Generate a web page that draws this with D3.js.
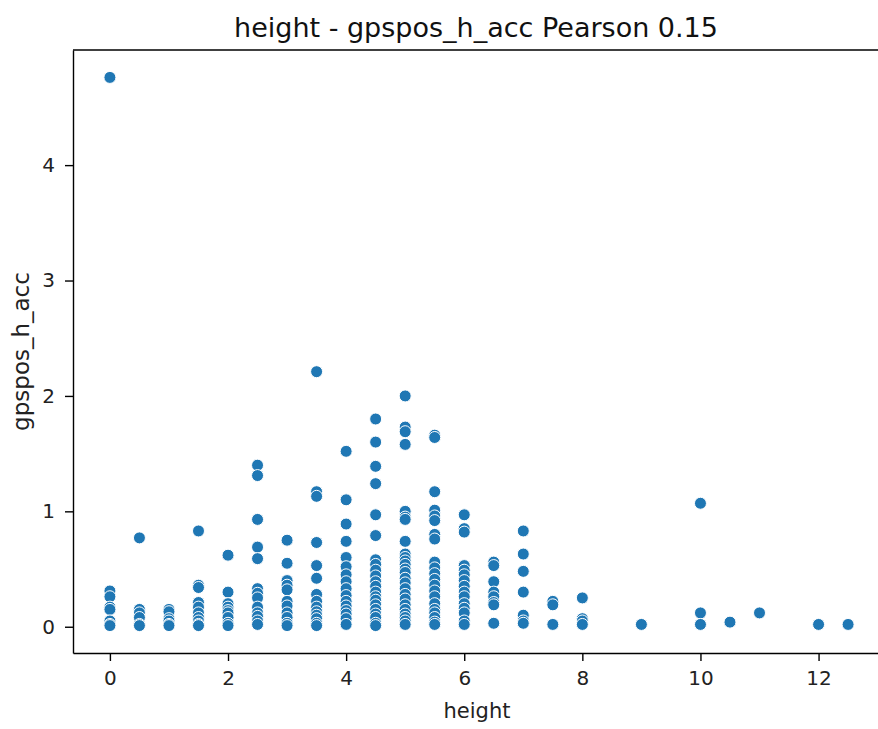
<!DOCTYPE html>
<html>
<head>
<meta charset="utf-8">
<script src="https://cdn.jsdelivr.net/npm/d3@7"></script>
<style>
  body { margin: 0; background: #fff; }
  svg { display: block; font-family: "DejaVu Sans", sans-serif; }
</style>
</head>
<body>
<svg id="chart" width="878" height="729"></svg>
<script>
// gpspos_h_acc values observed at each height step
const heights = [0, 0.5, 1, 1.5, 2, 2.5, 3, 3.5, 4, 4.5, 5, 5.5, 6, 6.5, 7, 7.5, 8, 9, 10, 10.5, 11, 12, 12.5];
const accByHeight = [
  [4.76, 0.31, 0.26, 0.17, 0.15, 0.05, 0.02, 0.01],
  [0.77, 0.15, 0.12, 0.08, 0.02, 0.01],
  [0.15, 0.13, 0.07, 0.05, 0.02, 0.01],
  [0.83, 0.36, 0.34, 0.21, 0.17, 0.12, 0.08, 0.05, 0.02, 0.01],
  [0.62, 0.30, 0.20, 0.17, 0.14, 0.12, 0.08, 0.03, 0.01],
  [1.40, 1.31, 0.93, 0.69, 0.59, 0.33, 0.29, 0.25, 0.17, 0.12, 0.09, 0.05, 0.02],
  [0.75, 0.55, 0.40, 0.36, 0.32, 0.22, 0.18, 0.12, 0.08, 0.03, 0.01],
  [2.21, 1.17, 1.13, 0.73, 0.53, 0.42, 0.28, 0.22, 0.17, 0.13, 0.10, 0.07, 0.03, 0.01],
  [1.52, 1.10, 0.89, 0.74, 0.60, 0.52, 0.45, 0.39, 0.33, 0.27, 0.22, 0.18, 0.14, 0.11, 0.07, 0.02],
  [1.80, 1.60, 1.39, 1.24, 0.97, 0.79, 0.58, 0.54, 0.49, 0.44, 0.39, 0.35, 0.30, 0.26, 0.23, 0.19, 0.15, 0.11, 0.08, 0.03, 0.01],
  [2.00, 1.73, 1.69, 1.58, 1.00, 0.95, 0.93, 0.74, 0.63, 0.60, 0.57, 0.54, 0.50, 0.47, 0.42, 0.38, 0.33, 0.28, 0.24, 0.19, 0.15, 0.11, 0.08, 0.05, 0.02],
  [1.66, 1.64, 1.17, 1.01, 0.96, 0.92, 0.80, 0.76, 0.56, 0.51, 0.46, 0.41, 0.36, 0.31, 0.26, 0.20, 0.15, 0.12, 0.08, 0.04, 0.02],
  [0.97, 0.85, 0.82, 0.53, 0.49, 0.45, 0.40, 0.35, 0.30, 0.26, 0.20, 0.16, 0.12, 0.05, 0.02],
  [0.56, 0.53, 0.39, 0.30, 0.26, 0.21, 0.19, 0.03],
  [0.83, 0.63, 0.48, 0.30, 0.10, 0.05, 0.03],
  [0.22, 0.19, 0.02],
  [0.25, 0.07, 0.05, 0.02],
  [0.02],
  [1.07, 0.12, 0.02],
  [0.04],
  [0.12],
  [0.02],
  [0.02]
];
const xTicks = [0, 2, 4, 6, 8, 10, 12];
const yTicks = [0, 1, 2, 3, 4];
const title = "height - gpspos_h_acc Pearson 0.15";

const points = heights.flatMap((h, i) => accByHeight[i].map(v => ({ x: h, y: v })));

const svg = d3.select("#chart");
const margin = { left: 73, top: 50, right: -7, bottom: 76 };
const width = +svg.attr("width");
const height = +svg.attr("height");

// matplotlib-style 5% padding around the data range
function padded([lo, hi]) {
  const pad = (hi - lo) * 0.05;
  return [lo - pad, hi + pad];
}

const x = d3.scaleLinear()
  .domain(padded(d3.extent(points, d => d.x)))
  .range([margin.left, width - margin.right]);
const y = d3.scaleLinear()
  .domain(padded(d3.extent(points, d => d.y)))
  .range([height - margin.bottom, margin.top]);

function styleAxis(g) {
  g.attr("font-family", "DejaVu Sans, sans-serif").attr("font-size", 20);
  g.selectAll("path, line").attr("stroke", "#000").attr("stroke-width", 1.4);
  g.selectAll("text").attr("fill", "#222");
}

svg.append("g")
  .attr("transform", `translate(0,${height - margin.bottom})`)
  .call(d3.axisBottom(x).tickValues(xTicks).tickFormat(d3.format("d")).tickSize(8).tickPadding(10).tickSizeOuter(0))
  .call(styleAxis);

svg.append("g")
  .attr("transform", `translate(${margin.left},0)`)
  .call(d3.axisLeft(y).tickValues(yTicks).tickFormat(d3.format("d")).tickSize(8).tickPadding(10).tickSizeOuter(0))
  .call(styleAxis);

// top and right spines
svg.append("line")
  .attr("x1", margin.left).attr("x2", width - margin.right)
  .attr("y1", margin.top).attr("y2", margin.top)
  .attr("stroke", "#000").attr("stroke-width", 1.4);
svg.append("line")
  .attr("x1", width - margin.right).attr("x2", width - margin.right)
  .attr("y1", margin.top).attr("y2", height - margin.bottom)
  .attr("stroke", "#000").attr("stroke-width", 1.4);

svg.append("g")
  .selectAll("circle")
  .data(points)
  .join("circle")
  .attr("cx", d => x(d.x))
  .attr("cy", d => y(d.y))
  .attr("r", 6)
  .attr("fill", "#1f77b4")
  .attr("stroke", "#fff")
  .attr("stroke-width", 1);

svg.append("text")
  .attr("x", 476).attr("y", 37)
  .attr("text-anchor", "middle")
  .attr("font-size", 27)
  .attr("fill", "#111")
  .text(title);

svg.append("text")
  .attr("x", 477).attr("y", 718)
  .attr("text-anchor", "middle")
  .attr("font-size", 21)
  .attr("fill", "#222")
  .text("height");

svg.append("text")
  .attr("transform", `translate(29,${(margin.top + height - margin.bottom) / 2}) rotate(-90)`)
  .attr("text-anchor", "middle")
  .attr("font-size", 23)
  .attr("fill", "#222")
  .text("gpspos_h_acc");
</script>
</body>
</html>
